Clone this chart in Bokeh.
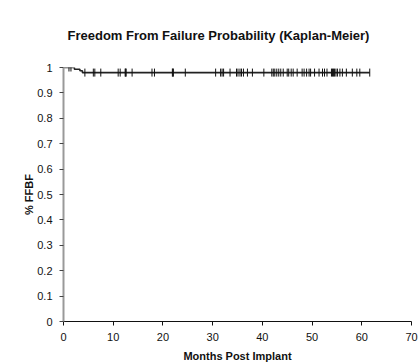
import numpy as np
from bokeh.plotting import figure
from bokeh.models import FixedTicker, Range1d, ColumnDataSource
from bokeh.embed import file_html
from bokeh.resources import INLINE

# Kaplan-Meier steps (event times in months, survival after the event)
step_times = [0.0, 2.2, 3.3, 3.8]
step_surv = [1.0, 0.993, 0.987, 0.980]
end_time = 61.6

# censored observations (months)
censor_times = [1.1, 1.5, 4.3, 6.0, 6.3, 7.5, 11.0, 11.4, 12.4, 12.5, 12.6, 13.8,
                17.8, 18.3, 21.9, 22.0, 22.1, 24.5, 30.6, 31.6, 31.9, 32.2, 33.5,
                34.8, 35.1, 35.5, 35.8, 36.2, 37.0, 38.0, 40.3, 41.9, 42.2, 42.5,
                42.9, 43.3, 43.7, 44.2, 45.0, 45.3, 45.8, 46.2, 47.0, 48.0, 48.4,
                48.9, 49.4, 49.7, 50.5, 51.4, 52.1, 52.5, 53.0, 53.9, 54.1, 54.3,
                54.5, 54.8, 55.1, 55.6, 56.1, 56.9, 58.1, 59.0, 59.6, 61.6]

x_ticks = [0, 10, 20, 30, 40, 50, 60, 70]
y_ticks = [0, 0.1, 0.2, 0.3, 0.4, 0.5, 0.6, 0.7, 0.8, 0.9, 1]
y_tick_labels = ["0", "0.1", "0.2", "0.3", "0.4", "0.5", "0.6", "0.7", "0.8", "0.9", "1"]

FONT = "Liberation Sans"

p = figure(width=419, height=364, output_backend="svg", toolbar_location=None,
           x_range=Range1d(0, 70), y_range=Range1d(0, 1),
           title="Freedom From Failure Probability (Kaplan-Meier)",
           min_border_left=63, min_border_right=8, min_border_top=67, min_border_bottom=41)
p.outline_line_color = None
p.xgrid.visible = False
p.ygrid.visible = False

p.title.text_font = FONT
p.title.text_font_size = "13px"
p.title.text_font_style = "bold"
p.title.align = "left"
p.title.offset = 4
p.title.standoff = 49
p.title.text_color = "#111111"

# curve
xs = list(step_times) + [end_time]
ys = list(step_surv) + [step_surv[-1]]
p.step(x=xs, y=ys, mode="after", line_color="#222222", line_width=1.6)

ct = np.array(censor_times)
idx = np.searchsorted(np.array(step_times), ct, side="right") - 1
cy = np.array(step_surv)[idx]
src = ColumnDataSource(dict(x=ct, y=cy))
p.scatter(x="x", y="y", source=src, marker="dash", angle=np.pi / 2, size=8,
          line_color="#111111", line_width=1)

# axes
xa = p.xaxis[0]
xa.ticker = FixedTicker(ticks=x_ticks)
xa.minor_tick_line_color = None
xa.major_tick_in = 0
xa.major_tick_out = 4
xa.axis_line_color = "#111111"
xa.major_tick_line_color = "#111111"
xa.major_label_text_font = FONT
xa.major_label_text_font_size = "11px"
xa.major_label_text_color = "#111111"
xa.major_label_standoff = 7
xa.axis_label = "Months Post Implant"
xa.axis_label_text_font = FONT
xa.axis_label_text_font_size = "11px"
xa.axis_label_text_font_style = "bold"
xa.axis_label_text_color = "#111111"
xa.axis_label_standoff = 6

ya = p.yaxis[0]
ya.ticker = FixedTicker(ticks=y_ticks)
ya.major_label_overrides = {t: l for t, l in zip(y_ticks, y_tick_labels)}
ya.minor_tick_line_color = None
ya.major_tick_in = 0
ya.major_tick_out = 4
ya.axis_line_color = "#999999"
ya.axis_line_width = 2
ya.major_tick_line_color = "#444444"
ya.major_label_text_font = FONT
ya.major_label_text_font_size = "11px"
ya.major_label_text_color = "#111111"
ya.major_label_standoff = 7
ya.axis_label = "% FFBF"
ya.axis_label_text_font = FONT
ya.axis_label_text_font_size = "11px"
ya.axis_label_text_font_style = "bold"
ya.axis_label_text_color = "#111111"
ya.axis_label_standoff = -1

open("out.html", "w").write(file_html(p, INLINE))
